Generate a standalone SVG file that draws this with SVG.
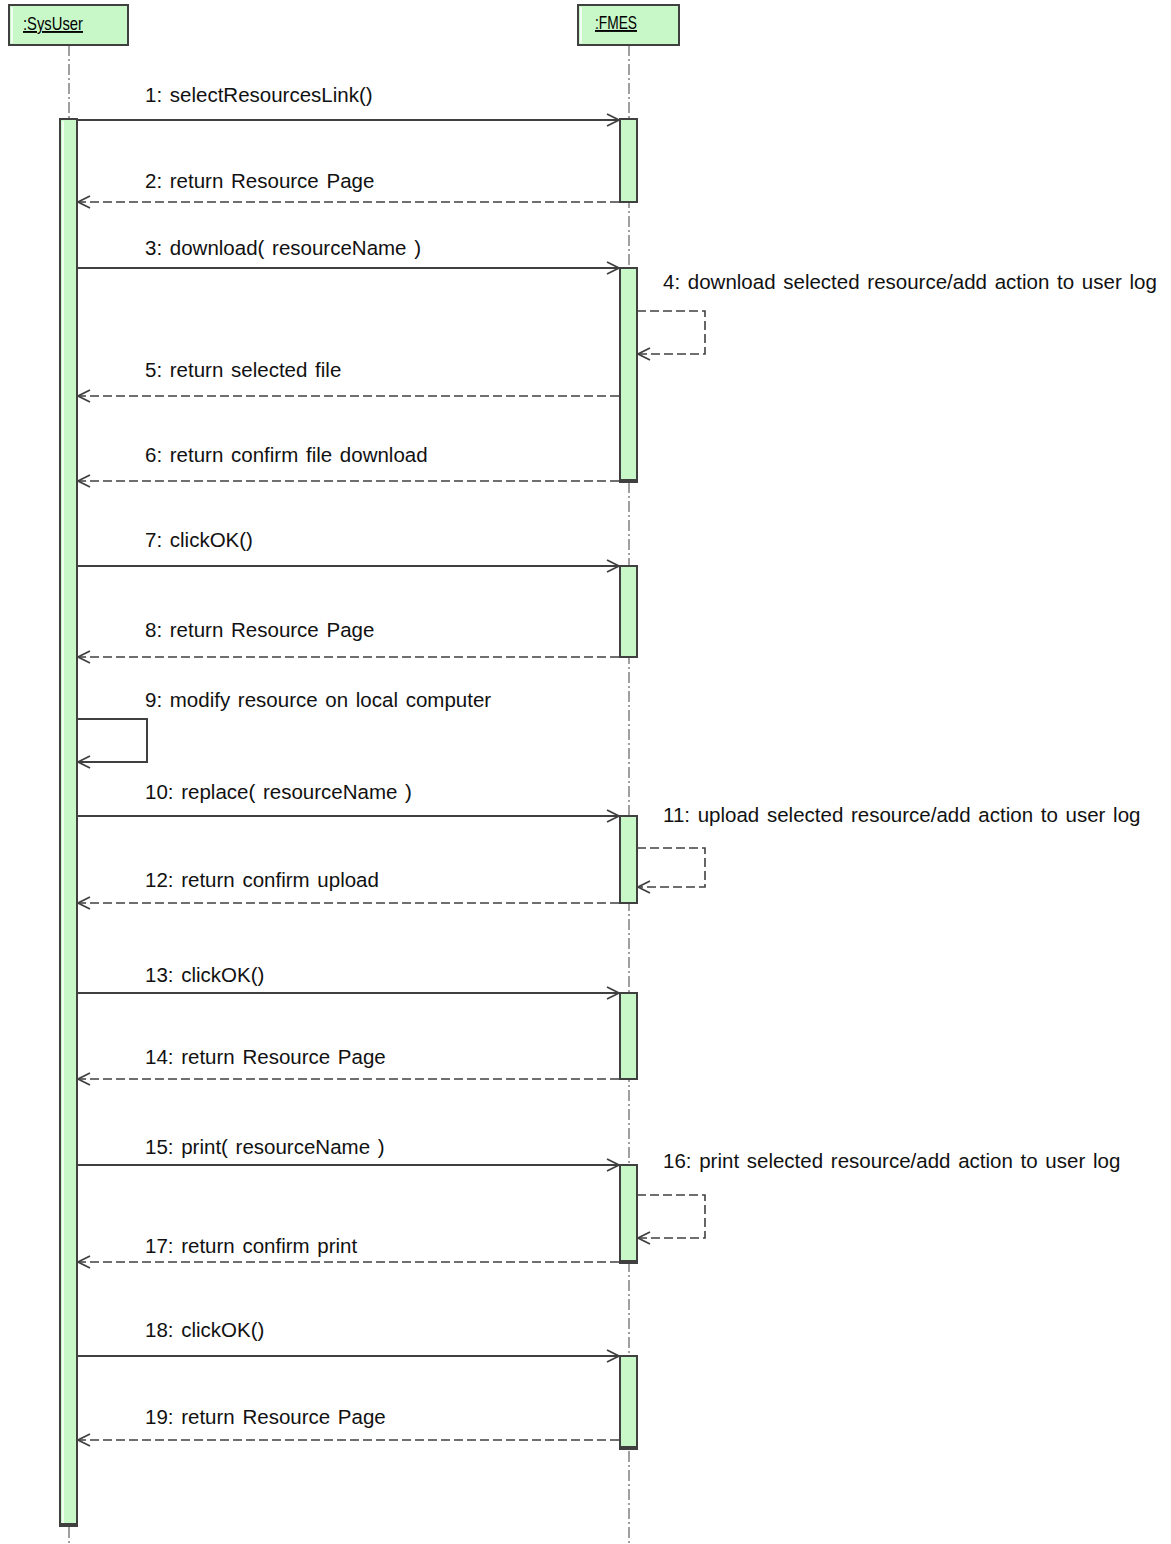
<svg xmlns="http://www.w3.org/2000/svg" width="1171" height="1544" viewBox="0 0 1171 1544">
  <style>
    .bg { fill: #ffffff; }
    .box { fill: #c8f8c8; stroke: #404040; stroke-width: 2; }
    .hl { stroke: #ffffff; stroke-width: 1.5; }
    .life { stroke: #404040; stroke-width: 1; stroke-dasharray: 11 3 2 3; fill: none; }
    .act { fill: #c8f8c8; stroke: #404040; stroke-width: 2; }
    .actbot { stroke: #404040; stroke-width: 4; }
    .call { stroke: #404040; stroke-width: 2; fill: none; }
    .ret { stroke: #404040; stroke-width: 1.6; stroke-dasharray: 9 4; fill: none; }
    .lbl { font-family: "Liberation Sans", Arial, sans-serif; font-size: 20.5px; word-spacing: 2px; fill: #111111; }
    .name { font-family: "Liberation Sans", Arial, sans-serif; font-size: 19px; fill: #000000; text-decoration: underline; }
  </style>
  <defs>
    <marker id="open" viewBox="0 0 14 14" refX="13" refY="7" markerWidth="14" markerHeight="14" markerUnits="userSpaceOnUse" orient="auto">
      <path d="M1,1 L13,7 L1,13" fill="none" stroke="#404040" stroke-width="1.8"/>
    </marker>
  </defs>
  <rect class="bg" x="0" y="0" width="1171" height="1544"/>

  <!-- lifelines -->
  <g id="lifelines">
    <line class="life" x1="69" y1="45" x2="69" y2="1544"/>
    <line class="life" x1="629" y1="45" x2="629" y2="1544"/>
  </g>

  <!-- participants -->
  <g id="node-sysuser">
    <rect class="box" x="9" y="5" width="119" height="40"/>
    <line class="hl" x1="12" y1="7" x2="12" y2="43"/>
    <text class="name" x="23" y="30" textLength="60" lengthAdjust="spacingAndGlyphs">:SysUser</text>
    <rect class="act" x="60" y="119" width="17" height="1406"/>
    <line class="hl" x1="63" y1="121" x2="63" y2="1523"/>
    <line class="actbot" x1="59" y1="1525" x2="78" y2="1525"/>
  </g>

  <g id="node-fmes">
    <rect class="box" x="578" y="5" width="101" height="40"/>
    <line class="hl" x1="581" y1="7" x2="581" y2="43"/>
    <text class="name" x="595" y="29" textLength="42" lengthAdjust="spacingAndGlyphs">:FMES</text>
  </g>

  <!-- activation bars on FMES -->
  <g id="fmes-activations">
    <rect class="act" x="620" y="119" width="17" height="83"/>
    <rect class="act" x="620" y="268" width="17" height="213"/>
    <line class="actbot" x1="619" y1="481" x2="638" y2="481"/>
    <rect class="act" x="620" y="566" width="17" height="91"/>
    <rect class="act" x="620" y="816" width="17" height="87"/>
    <rect class="act" x="620" y="993" width="17" height="86"/>
    <rect class="act" x="620" y="1165" width="17" height="97"/>
    <line class="actbot" x1="619" y1="1262" x2="638" y2="1262"/>
    <rect class="act" x="620" y="1356" width="17" height="92"/>
    <line class="actbot" x1="619" y1="1448" x2="638" y2="1448"/>
  </g>

  <!-- messages -->
  <g id="connectors">
    <line class="call" x1="77" y1="120" x2="619" y2="120" marker-end="url(#open)"/>
    <line class="ret" x1="619" y1="202" x2="78" y2="202" marker-end="url(#open)"/>
    <line class="call" x1="77" y1="268" x2="619" y2="268" marker-end="url(#open)"/>
    <polyline class="ret" points="637,311 705,311 705,354 638,354" marker-end="url(#open)"/>
    <line class="ret" x1="619" y1="396" x2="78" y2="396" marker-end="url(#open)"/>
    <line class="ret" x1="619" y1="481" x2="78" y2="481" marker-end="url(#open)"/>
    <line class="call" x1="77" y1="566" x2="619" y2="566" marker-end="url(#open)"/>
    <line class="ret" x1="619" y1="657" x2="78" y2="657" marker-end="url(#open)"/>
    <polyline class="call" points="77,719 147,719 147,762 78,762" marker-end="url(#open)"/>
    <line class="call" x1="77" y1="816" x2="619" y2="816" marker-end="url(#open)"/>
    <polyline class="ret" points="637,848 705,848 705,887 638,887" marker-end="url(#open)"/>
    <line class="ret" x1="619" y1="903" x2="78" y2="903" marker-end="url(#open)"/>
    <line class="call" x1="77" y1="993" x2="619" y2="993" marker-end="url(#open)"/>
    <line class="ret" x1="619" y1="1079" x2="78" y2="1079" marker-end="url(#open)"/>
    <line class="call" x1="77" y1="1165" x2="619" y2="1165" marker-end="url(#open)"/>
    <polyline class="ret" points="637,1195 705,1195 705,1238 638,1238" marker-end="url(#open)"/>
    <line class="ret" x1="619" y1="1262" x2="78" y2="1262" marker-end="url(#open)"/>
    <line class="call" x1="77" y1="1356" x2="619" y2="1356" marker-end="url(#open)"/>
    <line class="ret" x1="619" y1="1440" x2="78" y2="1440" marker-end="url(#open)"/>
  </g>

  <!-- message labels -->
  <g id="labels">
    <text class="lbl" x="145" y="102">1: selectResourcesLink()</text>
    <text class="lbl" x="145" y="188">2: return Resource Page</text>
    <text class="lbl" x="145" y="255">3: download( resourceName )</text>
    <text class="lbl" x="663" y="289">4: download selected resource/add action to user log</text>
    <text class="lbl" x="145" y="377">5: return selected file</text>
    <text class="lbl" x="145" y="462">6: return confirm file download</text>
    <text class="lbl" x="145" y="547">7: clickOK()</text>
    <text class="lbl" x="145" y="637">8: return Resource Page</text>
    <text class="lbl" x="145" y="707">9: modify resource on local computer</text>
    <text class="lbl" x="145" y="799">10: replace( resourceName )</text>
    <text class="lbl" x="663" y="822">11: upload selected resource/add action to user log</text>
    <text class="lbl" x="145" y="887">12: return confirm upload</text>
    <text class="lbl" x="145" y="982">13: clickOK()</text>
    <text class="lbl" x="145" y="1064">14: return Resource Page</text>
    <text class="lbl" x="145" y="1154">15: print( resourceName )</text>
    <text class="lbl" x="663" y="1168">16: print selected resource/add action to user log</text>
    <text class="lbl" x="145" y="1253">17: return confirm print</text>
    <text class="lbl" x="145" y="1337">18: clickOK()</text>
    <text class="lbl" x="145" y="1424">19: return Resource Page</text>
  </g>
</svg>
